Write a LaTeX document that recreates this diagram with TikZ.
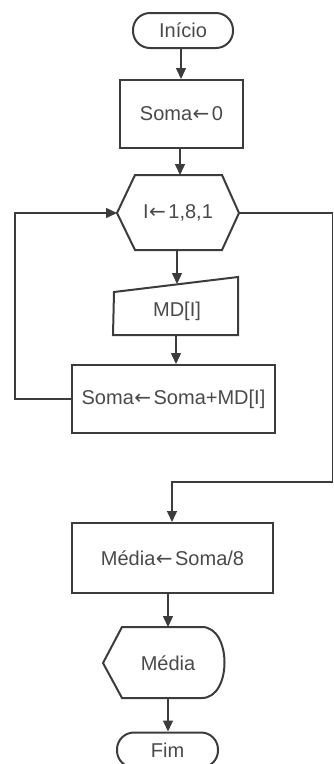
\documentclass[tikz,border=0pt]{standalone}
\usepackage{fontspec}
\setmainfont{Liberation Sans}
\newfontfamily\arrowfont{DejaVu Sans}
\newcommand{\larr}{{\arrowfont\kern0.5pt←\kern2.5pt}}
\usetikzlibrary{arrows.meta}
\definecolor{ink}{HTML}{3C3C3C}
\definecolor{txt}{HTML}{4A4A4A}
\begin{document}
\begin{tikzpicture}[x=1pt,y=-1pt,
  shape line/.style={draw=ink,line width=2pt,line join=miter},
  conn/.style={draw=ink,line width=1.5pt},
  arr/.style={conn,-{Triangle[width=10pt,length=11pt]}},
  lbl/.style={text=txt,font=\fontsize{20}{22}\selectfont,inner sep=0pt},
  term/.style={shape line,rounded corners=17pt,minimum height=35pt,inner sep=0pt}
]
\useasboundingbox (0,0) rectangle (334,764);
\fill[white] (0,0) rectangle (334,764);

% Inicio
\node[term,minimum width=100pt,lbl] (ini) at (183,30.5) {Início};
% Soma <- 0
\node[shape line,minimum width=123pt,minimum height=68pt,lbl] (s0) at (181.5,114) {Soma\larr0};
% hexagon
\draw[shape line] (117,213) -- (135,175) -- (222,175) -- (239,213) -- (222,250) -- (135,250) -- cycle;
\node[lbl] (hex) at (178,213) {I\larr1,8,1};
\coordinate (hexW) at (117,213);
\coordinate (hexE) at (239,213);
\coordinate (hexN) at (180,175);
\coordinate (hexS) at (177,250);
% manual input
\draw[shape line] (114,292) -- (238,277) -- (238,335) -- (113,335) -- cycle;
\node[lbl] (md) at (177,311) {MD[I]};
\coordinate (mdN) at (177,284);
\coordinate (mdS) at (176,335);
% Soma <- Soma+MD[I]
\node[shape line,minimum width=203pt,minimum height=68pt,lbl] (acc) at (173.5,399) {Soma\larr Soma+MD[I]};
% Media <- Soma/8
\node[shape line,minimum width=201pt,minimum height=70pt,lbl] (med) at (172.5,558) {Média\larr Soma/8};
% display
\draw[shape line] (103,663) -- (122,627) -- (202,627) .. controls (232,627) and (232,698) .. (202,698) -- (122,698) -- cycle;
\node[lbl] (disp) at (168,663) {Média};
\coordinate (dispN) at (168,627);
\coordinate (dispS) at (168,698);
% Fim
\node[term,minimum width=101pt,lbl] (fim) at (167.5,750) {Fim};

% connectors
\draw[arr] (ini.south -| 181,0) -- (s0.north -| 181,0);
\draw[arr] (s0.south -| hexN) -- (hexN);
\draw[arr] (hexS) -- (mdN);
\draw[arr] (mdS) -- (mdS |- acc.north);
\coordinate (l1) at (15,399);
\coordinate (l2) at (15,213);
\draw[arr] (acc.west) -- (l1) -- (l2) -- (hexW);
\coordinate (r1) at (332.5,213);
\coordinate (r2) at (332.5,482);
\coordinate (r3) at (172,482);
\draw[arr] (hexE) -- (r1) -- (r2) -- (r3) -- (r3 |- med.north);
\draw[arr] (med.south -| dispN) -- (dispN);
\draw[arr] (dispS) -- (dispS |- fim.north);
\end{tikzpicture}
\end{document}
